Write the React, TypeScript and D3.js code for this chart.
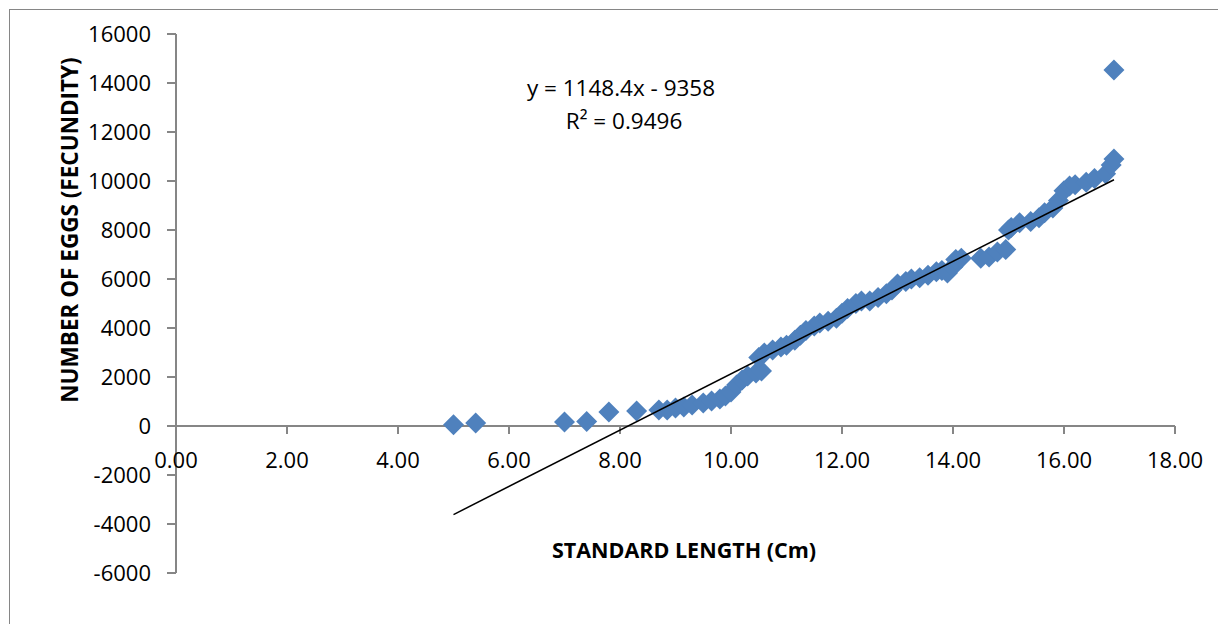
import React, { useEffect, useRef } from 'react';
import * as d3 from 'd3';

// standard length (cm) and fecundity
const lengths = [
  5.0, 5.4, 7.0, 7.4, 7.8, 8.3, 8.7, 8.85, 9.0, 9.15, 9.3, 9.5, 9.65, 9.8, 9.9, 10.0,
  10.1, 10.2, 10.3, 10.45, 10.55, 10.5, 10.6, 10.75, 10.9, 11.0, 11.15, 11.25, 11.35,
  11.5, 11.6, 11.75, 11.9, 12.0, 12.1, 12.25, 12.35, 12.5, 12.65, 12.8, 12.9, 13.0,
  13.15, 13.25, 13.4, 13.55, 13.7, 13.8, 13.9, 14.0, 14.05, 14.15, 14.5, 14.65, 14.8,
  14.95, 15.0, 15.05, 15.2, 15.4, 15.55, 15.65, 15.8, 15.9, 16.0, 16.1, 16.2, 16.4,
  16.55, 16.75, 16.85, 16.9, 16.9
];
const eggs = [
  50, 120, 160, 180, 570, 610, 650, 650, 730, 780, 860, 940, 1020, 1100, 1220, 1390,
  1670, 1880, 2040, 2160, 2250, 2800, 2980, 3100, 3220, 3300, 3500, 3700, 3900,
  4080, 4200, 4280, 4400, 4600, 4800, 5000, 5100, 5100, 5250, 5400, 5550, 5800,
  5900, 6000, 6050, 6150, 6300, 6350, 6250, 6500, 6800, 6850, 6850, 6900, 7100,
  7200, 8000, 8100, 8300, 8350, 8500, 8700, 8900, 9200, 9600, 9800, 9850, 9950,
  10100, 10300, 10650, 10900, 14530
];

const xTicks = [0, 2, 4, 6, 8, 10, 12, 14, 16, 18];
const yTicks = [-6000, -4000, -2000, 0, 2000, 4000, 6000, 8000, 10000, 12000, 14000, 16000];

// linear trendline as reported on the chart
const trendSlope = 1148.4;
const trendIntercept = -9358;
const trendLabel = 'y = 1148.4x - 9358';
const r2Label = 'R² = 0.9496';

const App: React.FC = () => {
  const svgRef = useRef<SVGSVGElement>(null);

  useEffect(() => {
    if (!svgRef.current) return;
    const width = 1218;
    const height = 624;
    const font = '"Open Sans", "Liberation Sans", sans-serif';
    const axisColor = '#868686';

    const svg = d3.select(svgRef.current);
    svg.selectAll('*').remove();
    svg.attr('width', width).attr('height', height);

    svg.append('rect')
      .attr('width', width)
      .attr('height', height)
      .attr('fill', '#fff');

    // chart frame
    svg.append('rect')
      .attr('x', 9.5)
      .attr('y', 9.5)
      .attr('width', width + 20)
      .attr('height', height + 20)
      .attr('fill', 'none')
      .attr('stroke', axisColor)
      .attr('stroke-width', 1);

    const x = d3.scaleLinear().domain([0, 18]).range([176, 1175]);
    const y = d3.scaleLinear().domain([-6000, 16000]).range([573, 34]);

    // y axis
    svg.append('line')
      .attr('x1', x(0)).attr('x2', x(0))
      .attr('y1', y(-6000)).attr('y2', y(16000))
      .attr('stroke', axisColor).attr('stroke-width', 2);

    svg.selectAll('.ytick')
      .data(yTicks)
      .enter()
      .append('line')
      .attr('x1', x(0) - 9).attr('x2', x(0))
      .attr('y1', d => y(d)).attr('y2', d => y(d))
      .attr('stroke', axisColor).attr('stroke-width', 2);

    svg.selectAll('.ylabel')
      .data(yTicks)
      .enter()
      .append('text')
      .attr('x', 151)
      .attr('y', d => y(d))
      .attr('dy', '0.36em')
      .attr('text-anchor', 'end')
      .attr('font-family', font)
      .attr('font-size', 22)
      .attr('fill', '#000')
      .text(d => `${d}`);

    // x axis, drawn through zero
    svg.append('line')
      .attr('x1', x(0)).attr('x2', x(18))
      .attr('y1', y(0)).attr('y2', y(0))
      .attr('stroke', axisColor).attr('stroke-width', 2);

    svg.selectAll('.xtick')
      .data(xTicks)
      .enter()
      .append('line')
      .attr('x1', d => x(d)).attr('x2', d => x(d))
      .attr('y1', y(0)).attr('y2', y(0) + 8)
      .attr('stroke', axisColor).attr('stroke-width', 2);

    svg.selectAll('.xlabel')
      .data(xTicks)
      .enter()
      .append('text')
      .attr('x', d => x(d))
      .attr('y', 468)
      .attr('text-anchor', 'middle')
      .attr('font-family', font)
      .attr('font-size', 22)
      .attr('fill', '#000')
      .text(d => d.toFixed(2));

    // axis titles
    svg.append('text')
      .attr('x', 684)
      .attr('y', 558)
      .attr('text-anchor', 'middle')
      .attr('font-family', font)
      .attr('font-weight', 'bold')
      .attr('font-size', 21.5)
      .text('STANDARD LENGTH (Cm)');

    svg.append('text')
      .attr('transform', 'translate(78, 230) rotate(-90)')
      .attr('text-anchor', 'middle')
      .attr('font-family', font)
      .attr('font-weight', 'bold')
      .attr('font-size', 22.5)
      .text('NUMBER OF EGGS (FECUNDITY)');

    // data points
    const points = lengths.map((l, i) => ({ l, e: eggs[i] }));
    svg.selectAll('.pt')
      .data(points)
      .enter()
      .append('path')
      .attr('d', 'M0,-10.5L10.5,0L0,10.5L-10.5,0Z')
      .attr('transform', d => `translate(${x(d.l)},${y(d.e)})`)
      .attr('fill', '#4F81BD');

    // trendline
    const xMin = d3.min(lengths) as number;
    const xMax = d3.max(lengths) as number;
    svg.append('line')
      .attr('x1', x(xMin)).attr('y1', y(trendSlope * xMin + trendIntercept))
      .attr('x2', x(xMax)).attr('y2', y(trendSlope * xMax + trendIntercept))
      .attr('stroke', '#000')
      .attr('stroke-width', 1.5);

    // equation label
    svg.append('text')
      .attr('x', 621)
      .attr('y', 96)
      .attr('text-anchor', 'middle')
      .attr('font-family', font)
      .attr('font-size', 22.5)
      .text(trendLabel);

    svg.append('text')
      .attr('x', 624)
      .attr('y', 129)
      .attr('text-anchor', 'middle')
      .attr('font-family', font)
      .attr('font-size', 22.5)
      .text(r2Label);
  }, []);

  return <svg ref={svgRef} style={{ position: 'absolute', left: 0, top: 0, display: 'block' }} />;
};

export default App;
